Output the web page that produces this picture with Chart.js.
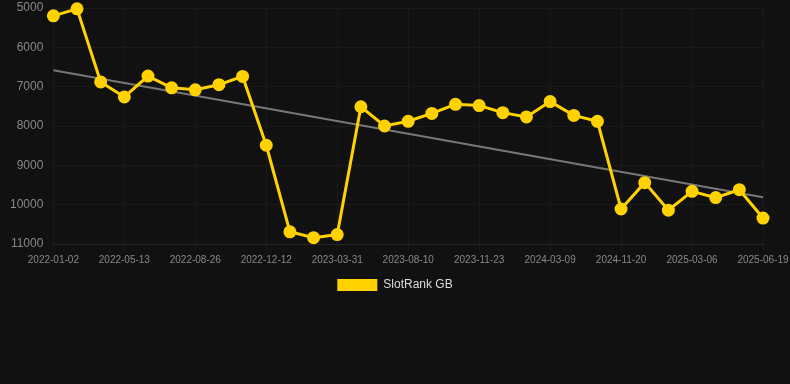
<!DOCTYPE html>
<html>
<head>
<meta charset="utf-8">
<script src="https://cdn.jsdelivr.net/npm/chart.js@4/dist/chart.umd.min.js"></script>
<style>
    html, body { margin: 0; padding: 0; background: #111111; }
    #wrap { width: 790px; height: 384px; }
</style>
</head>
<body>
<div id="wrap"><canvas id="rank-chart"></canvas></div>
<script>
// Dates (every third one is shown on the axis)
const dates = [
    '2022-01-02', '2022-02-15', '2022-03-30',
    '2022-05-13', '2022-06-20', '2022-07-24',
    '2022-08-26', '2022-10-01', '2022-11-06',
    '2022-12-12', '2023-01-20', '2023-02-25',
    '2023-03-31', '2023-05-12', '2023-06-28',
    '2023-08-10', '2023-09-14', '2023-10-19',
    '2023-11-23', '2023-12-30', '2024-02-02',
    '2024-03-09', '2024-05-20', '2024-08-15',
    '2024-11-20', '2024-12-26', '2025-01-30',
    '2025-03-06', '2025-04-10', '2025-05-15',
    '2025-06-19'
];

// SlotRank GB rank values
const rankGB = [
    5200, 5020, 6880, 7260, 6730, 7030, 7080, 6950, 6740, 8490,
    10690, 10840, 10760, 7510, 8000, 7880, 7680, 7450, 7480, 7660,
    7770, 7380, 7730, 7880, 10110, 9440, 10140, 9660, 9820, 9620,
    10340
];

// Trend line end points
const trendStart = 6580;
const trendEnd = 9810;

const yTicks = [5000, 6000, 7000, 8000, 9000, 10000, 11000];

const trendData = dates.map((d, i) => {
    if (i === 0) return trendStart;
    if (i === dates.length - 1) return trendEnd;
    return null;
});

const ctx = document.getElementById('rank-chart').getContext('2d');
const chart = new Chart(ctx, {
    type: 'line',
    data: {
        labels: dates,
        datasets: [
            {
                label: 'SlotRank GB',
                data: rankGB,
                borderColor: '#FFD200',
                backgroundColor: '#FFD200',
                borderWidth: 3,
                pointRadius: 5,
                pointBackgroundColor: '#FFD200',
                pointBorderColor: '#FFD200',
                tension: 0,
                clip: false
            },
            {
                label: 'trend',
                data: trendData,
                borderColor: '#777777',
                borderWidth: 2,
                pointRadius: 0,
                spanGaps: true,
                tension: 0
            }
        ]
    },
    options: {
        responsive: true,
        maintainAspectRatio: false,
        animation: false,
        layout: { padding: { left: 0, right: 0, top: 0, bottom: 83 } },
        scales: {
            x: {
                offset: false,
                afterFit: (s) => { s.paddingRight = 27; },
                grid: { color: '#1a1a1a', drawTicks: true, tickLength: 7 },
                border: { color: '#262626' },
                ticks: {
                    autoSkip: false,
                    maxRotation: 0,
                    color: '#888888',
                    font: { size: 10, family: 'Arial, "Liberation Sans", sans-serif' },
                    callback: function (val, idx) {
                        return idx % 3 === 0 ? this.getLabelForValue(val) : null;
                    }
                }
            },
            y: {
                reverse: true,
                min: 5000,
                max: 11000,
                afterFit: (s) => { s.paddingTop = 7; },
                afterBuildTicks: (axis) => { axis.ticks = yTicks.map(v => ({ value: v })); },
                grid: { color: '#1a1a1a', drawTicks: false },
                border: { display: false },
                ticks: {
                    color: '#888888',
                    padding: 10,
                    font: { size: 12, family: 'Arial, "Liberation Sans", sans-serif' },
                    callback: (v) => String(v)
                }
            }
        },
        plugins: {
            legend: {
                position: 'bottom',
                labels: {
                    filter: (item) => item.text !== 'trend',
                    generateLabels: (c) => Chart.defaults.plugins.legend.labels.generateLabels(c)
                        .map(l => Object.assign(l, { lineWidth: 0 })),
                    boxWidth: 40,
                    boxHeight: 12,
                    color: '#dddddd',
                    font: { size: 12, family: 'Arial, "Liberation Sans", sans-serif' }
                }
            },
            tooltip: { enabled: false }
        }
    }
});
</script>
</body>
</html>
